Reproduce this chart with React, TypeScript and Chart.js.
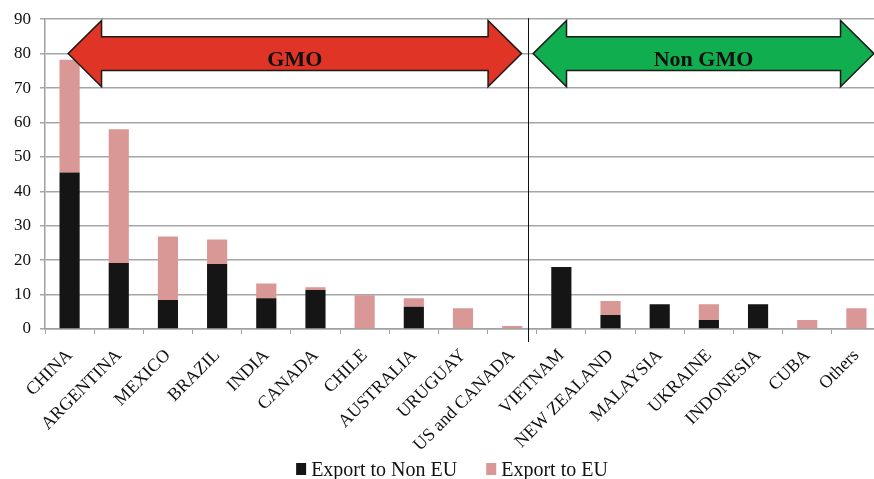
import React, { useEffect, useRef } from "react";
import { Chart, registerables } from "chart.js";

Chart.register(...registerables);

// Soy export volumes by origin country
const categories = [
  "CHINA",
  "ARGENTINA",
  "MEXICO",
  "BRAZIL",
  "INDIA",
  "CANADA",
  "CHILE",
  "AUSTRALIA",
  "URUGUAY",
  "US and CANADA",
  "VIETNAM",
  "NEW ZEALAND",
  "MALAYSIA",
  "UKRAINE",
  "INDONESIA",
  "CUBA",
  "Others",
];
const exportNonEU = [45.5, 19.2, 8.4, 18.9, 8.9, 11.3, 0, 6.5, 0, 0, 18.0, 4.1, 7.2, 2.6, 7.2, 0, 0];
const exportEU = [32.7, 38.8, 18.5, 7.1, 4.3, 0.8, 9.8, 2.4, 6.0, 0.9, 0, 4.0, 0, 4.6, 0, 2.6, 6.0];
const seriesNames = ["Export to Non EU", "Export to EU"];
const seriesColors = ["#151515", "#d99795"];
const yMin = 0;
const yMax = 90;
const yStep = 10;

// Group banners (category-index spans) and the divider between the groups
const groupLabels = ["GMO", "Non GMO"];
const groupSpans = [
  [-0.03, 9.19],
  [9.425, 16.357],
];
const groupColors = ["#e03426", "#10ae4f"];
const dividerAt = 9.32;
const bannerLevel = 80;

const SERIF = "'Liberation Serif', 'Times New Roman', serif";

const bannerPlugin = {
  id: "groupBanners",
  afterDatasetsDraw(chart: any) {
    const { ctx, chartArea } = chart;
    const xs = chart.scales.x;
    const ys = chart.scales.y;
    const cy = ys.getPixelForValue(bannerLevel);
    const unit = ys.getPixelForValue(0) - ys.getPixelForValue(1);
    const headHalf = 9.6 * unit;
    const shaftHalf = 4.9 * unit;
    const headLen = xs.getPixelForValue(0.68) - xs.getPixelForValue(0);

    ctx.save();
    // divider between GMO and non-GMO origins
    const dx = Math.round(xs.getPixelForValue(dividerAt)) + 0.5;
    ctx.strokeStyle = "#111";
    ctx.lineWidth = 1;
    ctx.beginPath();
    ctx.moveTo(dx, chartArea.top - 1);
    ctx.lineTo(dx, chartArea.bottom + 13);
    ctx.stroke();

    groupSpans.forEach((span, i) => {
      const x0 = xs.getPixelForValue(span[0]);
      const x1 = xs.getPixelForValue(span[1]);
      ctx.beginPath();
      ctx.moveTo(x0, cy);
      ctx.lineTo(x0 + headLen, cy - headHalf);
      ctx.lineTo(x0 + headLen, cy - shaftHalf);
      ctx.lineTo(x1 - headLen, cy - shaftHalf);
      ctx.lineTo(x1 - headLen, cy - headHalf);
      ctx.lineTo(x1, cy);
      ctx.lineTo(x1 - headLen, cy + headHalf);
      ctx.lineTo(x1 - headLen, cy + shaftHalf);
      ctx.lineTo(x0 + headLen, cy + shaftHalf);
      ctx.lineTo(x0 + headLen, cy + headHalf);
      ctx.closePath();
      ctx.fillStyle = groupColors[i];
      ctx.fill();
      ctx.strokeStyle = "#1a1a1a";
      ctx.lineWidth = 1.5;
      ctx.stroke();

      ctx.fillStyle = "#111";
      ctx.font = `bold 22px ${SERIF}`;
      ctx.textAlign = "center";
      ctx.textBaseline = "alphabetic";
      ctx.fillText(groupLabels[i], (x0 + x1) / 2, cy + 12);
    });
    ctx.restore();
  },
};

// Series key along the bottom edge
const legendPlugin = {
  id: "seriesKey",
  afterDraw(chart: any) {
    const { ctx } = chart;
    const font = `20px ${SERIF}`;
    const boxW = 10;
    const boxH = 12;
    const gapText = 5;
    const gapItem = 29;
    const baseline = 476;
    const centerX = 452;
    ctx.save();
    ctx.font = font;
    const widths = seriesNames.map((n) => ctx.measureText(n).width);
    const total =
      widths.reduce((a, w) => a + boxW + gapText + w, 0) + gapItem * (seriesNames.length - 1);
    let x = centerX - total / 2;
    seriesNames.forEach((name, i) => {
      ctx.fillStyle = seriesColors[i];
      ctx.fillRect(x, baseline - 13, boxW, boxH);
      x += boxW + gapText;
      ctx.fillStyle = "#111";
      ctx.textAlign = "left";
      ctx.textBaseline = "alphabetic";
      ctx.fillText(name, x, baseline);
      x += widths[i] + gapItem;
    });
    ctx.restore();
  },
};

export default function App() {
  const canvasRef = useRef<HTMLCanvasElement | null>(null);

  useEffect(() => {
    if (!canvasRef.current) return;
    const chart = new Chart(canvasRef.current, {
      type: "bar",
      data: {
        labels: categories,
        datasets: [
          {
            label: seriesNames[0],
            data: exportNonEU,
            backgroundColor: seriesColors[0],
            categoryPercentage: 1,
            barPercentage: 0.41,
          },
          {
            label: seriesNames[1],
            data: exportEU,
            backgroundColor: seriesColors[1],
            categoryPercentage: 1,
            barPercentage: 0.41,
          },
        ],
      },
      options: {
        responsive: false,
        animation: false,
        layout: { padding: { top: 18, right: 9, left: 0, bottom: 0 } },
        plugins: {
          tooltip: { enabled: false },
          legend: { display: false },
        },
        scales: {
          x: {
            stacked: true,
            afterFit: (scale: any) => {
              scale.height = 150;
            },
            grid: {
              drawOnChartArea: false,
              drawTicks: true,
              tickLength: 5,
              color: "#a0a0a0",
            },
            border: { color: "#a0a0a0", width: 1.5 },
            ticks: {
              autoSkip: false,
              minRotation: 45,
              maxRotation: 45,
              padding: 11,
              color: "#111",
              font: { family: SERIF, size: 18 },
            },
          },
          y: {
            stacked: true,
            min: yMin,
            max: yMax,
            afterFit: (scale: any) => {
              scale.width = 45;
            },
            grid: { color: "#a6a6a6", lineWidth: 1.5, tickLength: 5 },
            border: { color: "#a0a0a0", width: 1.5 },
            ticks: {
              stepSize: yStep,
              padding: 9,
              color: "#111",
              font: { family: SERIF, size: 17 },
            },
          },
        },
      },
      plugins: [bannerPlugin, legendPlugin],
    });
    return () => chart.destroy();
  }, []);

  return (
    <div
      style={{
        position: "fixed",
        left: 0,
        top: 0,
        width: 874,
        height: 479,
        overflow: "hidden",
        background: "#fff",
      }}
    >
      <canvas ref={canvasRef} width={890} height={479} style={{ display: "block" }} />
    </div>
  );
}
